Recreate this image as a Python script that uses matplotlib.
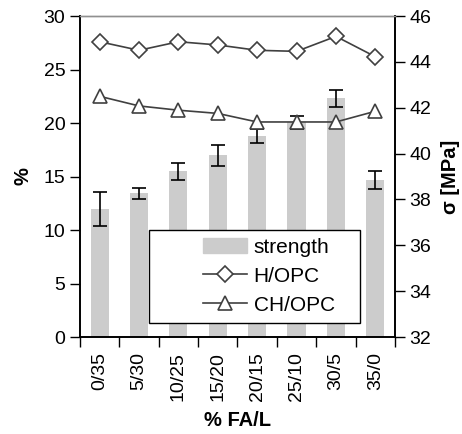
import numpy as np
import matplotlib.pyplot as plt
from matplotlib.patches import Rectangle
from matplotlib.lines import Line2D

plt.rcParams['font.family'] = ['Liberation Sans', 'DejaVu Sans']
plt.rcParams['font.size'] = 14

# mixtures (% FA / L)
mixes = ['0/35', '5/30', '10/25', '15/20', '20/15', '25/10', '30/5', '35/0']
# compressive strength [MPa] and its spread
strength = [37.58, 38.26, 39.24, 39.92, 40.77, 41.36, 42.42, 38.84]
strength_err = [0.73, 0.25, 0.37, 0.44, 0.29, 0.29, 0.37, 0.39]
# ratios in %
h_opc = [27.6, 26.8, 27.6, 27.3, 26.8, 26.7, 28.1, 26.2]
ch_opc = [22.5, 21.6, 21.2, 20.9, 20.1, 20.1, 20.1, 21.1]

x = np.arange(len(mixes))
line_col = '#404040'

fig = plt.figure(figsize=(4.62, 4.34), dpi=100)
ax = fig.add_axes([0.173, 0.2235, 0.682, 0.7395])
ax2 = ax.twinx()

# bars go on the right axis, lines on the left axis drawn above them
ax2.bar(x, strength, width=0.46, color='#cccccc', zorder=1)
ax2.errorbar(x, strength, yerr=strength_err, fmt='none', ecolor='black',
             elinewidth=1.2, capsize=5, capthick=1.2, zorder=2)
ax2.set_ylim(32, 46)
ax2.set_yticks(np.arange(32, 47, 2))
ax2.set_ylabel('σ [MPa]', fontweight='bold', fontsize=14.5, labelpad=7)

ax.set_zorder(ax2.get_zorder() + 1)
ax.patch.set_visible(False)
ax.plot(x, h_opc, color=line_col, lw=1.2, marker='D', ms=8.5,
        mfc='white', mec=line_col, mew=1.2)
ax.plot(x, ch_opc, color=line_col, lw=1.2, marker='^', ms=10,
        mfc='white', mec=line_col, mew=1.2)
ax.set_ylim(0, 30)
ax.set_yticks(np.arange(0, 31, 5))
ax.set_ylabel('%', fontweight='bold', fontsize=14.5, labelpad=8)
ax.set_xlim(-0.5, len(mixes) - 0.5)
ax.set_xticks(x)
ax.set_xticklabels(mixes, rotation=90)
ax.set_xticks(np.arange(-0.5, len(mixes), 1), minor=True)
ax.tick_params(axis='x', which='major', length=0, pad=11)
ax.tick_params(axis='x', which='minor', length=7, width=1)
ax.tick_params(axis='y', length=7, width=1)
ax2.tick_params(axis='y', length=7, width=1)
ax.set_xlabel('% FA/L', fontweight='bold', fontsize=14.5, labelpad=7)

for a in (ax, ax2):
    a.spines['top'].set_color('#909090')
    a.spines['top'].set_linewidth(1)
    for s in ('left', 'right', 'bottom'):
        a.spines[s].set_linewidth(1.2)

# legend box
ax.add_patch(Rectangle((0.219, 0.044), 0.67, 0.289, transform=ax.transAxes,
                       facecolor='white', edgecolor='black', lw=1, zorder=5))
handles = [
    Rectangle((0, 0), 1, 1, color='#cccccc'),
    Line2D([], [], color=line_col, lw=1.2, marker='D', ms=8.5,
           mfc='white', mec=line_col, mew=1.2),
    Line2D([], [], color=line_col, lw=1.2, marker='^', ms=10,
           mfc='white', mec=line_col, mew=1.2),
]
leg = ax.legend(handles, ['strength', 'H/OPC', 'CH/OPC'], frameon=False,
                loc='center left', bbox_to_anchor=(0.356, 0.19),
                borderpad=0, handlelength=2.15, handletextpad=0.3,
                labelspacing=0.48, fontsize=15)
leg.set_zorder(6)

fig.savefig('out.png', dpi=100)
